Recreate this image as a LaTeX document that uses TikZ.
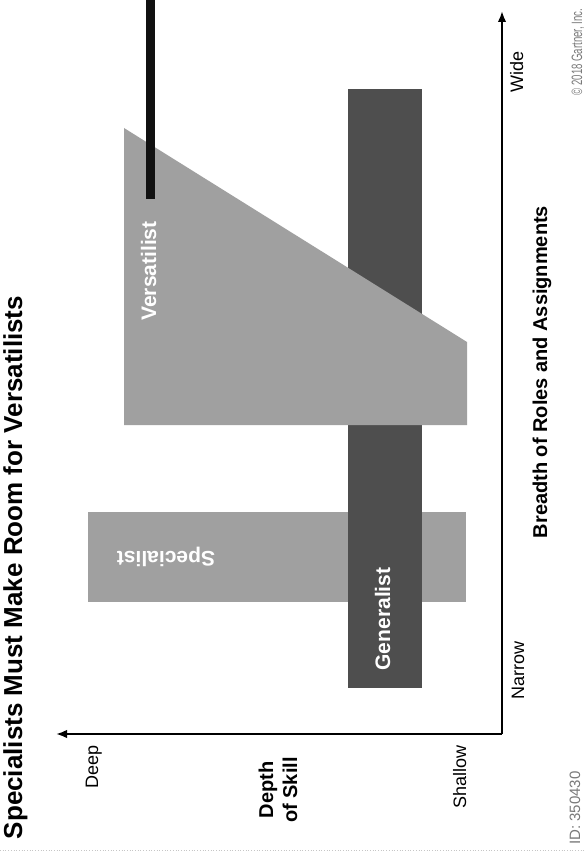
\documentclass[tikz,border=0pt]{standalone}
\usepackage{fontspec}
\setmainfont{Liberation Sans}
\usetikzlibrary{arrows.meta}
\definecolor{lightbar}{HTML}{A0A0A0}
\definecolor{darkbar}{HTML}{4E4E4E}
\definecolor{blackbar}{HTML}{111111}
\definecolor{notegray}{HTML}{7A7A7A}
\begin{document}
\begin{tikzpicture}[x=1pt,y=-1pt,
  axis/.style={line width=1.9pt,-{Latex[length=11pt,width=8.5pt]}},
  ticklbl/.style={inner sep=0pt,anchor=base,rotate=90,font=\fontsize{18}{20}\selectfont},
  axislbl/.style={inner sep=0pt,anchor=base,rotate=90,font=\bfseries\fontsize{20}{24}\selectfont},
  barlbl/.style={inner sep=0pt,anchor=base,text=white,font=\bfseries\fontsize{21}{24}\selectfont},
  notelbl/.style={inner sep=0pt,anchor=base,rotate=90,text=notegray,font=\fontsize{15}{17}\selectfont}]
\useasboundingbox (0,0) rectangle (585,853);
\fill[white] (0,0) rectangle (585,853);

% title
\node[inner sep=0pt,anchor=base,rotate=90,font=\bfseries\fontsize{26}{30}\selectfont] (title) at (22,567.5) {Specialists Must Make Room for Versatilists};

% shapes
\fill[lightbar] (88,512) rectangle (466,602);
\fill[darkbar] (348,89) rectangle (422,688);
\fill[lightbar] (124,128) -- (467,342) -- (467,425) -- (124,425) -- cycle;
\fill[blackbar] (146,0) rectangle (155,199);

\node[barlbl,rotate=180] (spec) at (166,551) {Specialist};
\node[barlbl,rotate=90] (vers) at (156,271) {Versatilist};
\node[barlbl,rotate=90] (gen) at (390,619) {Generalist};

% axes
\coordinate (corner) at (502,734);
\coordinate (deepend) at (56,734);
\coordinate (wideend) at (502,11);
\draw[axis] (corner) -- (deepend);
\draw[axis] (corner) -- (wideend);

% axis labels
\node[ticklbl] (deep) at (98,767) {Deep};
\node[ticklbl] (shallow) at (466,777) {Shallow};
\node[axislbl,align=center] (depth) at (297,790) {Depth\\of Skill};
\node[ticklbl] (narrow) at (524,670) {Narrow};
\node[ticklbl] (wide) at (523,72) {Wide};
\node[axislbl] (breadth) at (547,372) {Breadth of Roles and Assignments};

% notes
\node[notelbl] (copy) at (582,52) {\scalebox{0.64}[1]{© 2018 Gartner, Inc.}};
\node[notelbl] (id) at (580,808) {ID: 350430};

\draw[gray!45,dotted,line width=0.7pt] (0,850) -- (585,850);
\end{tikzpicture}
\end{document}
